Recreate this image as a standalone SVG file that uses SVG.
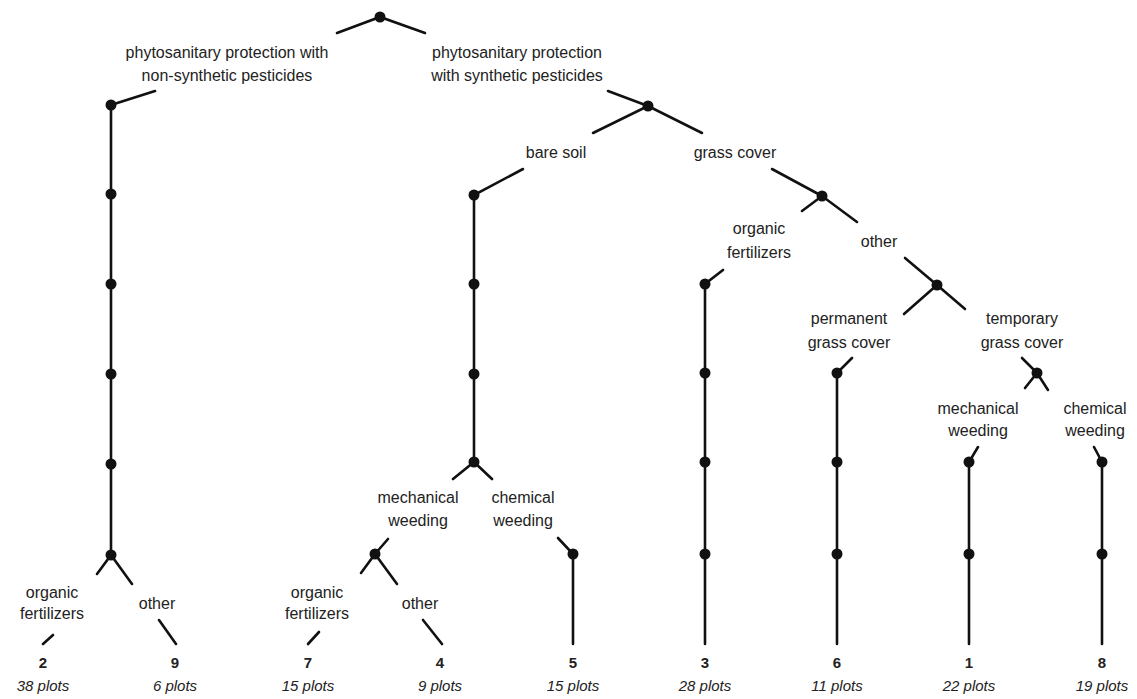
<svg xmlns="http://www.w3.org/2000/svg" width="1137" height="699" viewBox="0 0 1137 699">
<style>
.e{stroke:#111;stroke-width:2.6;fill:none;stroke-linecap:round}
.d{fill:#111}
text{font-family:"Liberation Sans",Arial,sans-serif;font-size:16px;fill:#222;text-anchor:middle}
.n{font-weight:bold;font-size:15px}
.p{font-style:italic;font-size:15px}
</style>
<rect width="1137" height="699" fill="#fff"/>
<g id="connectors">
<path class="e" d="M337,33 L380,17 L425,33"/>
<path class="e" d="M155,91 L111,105 L111,555 M97,574 L111,555 L132,584 M43,644 L53,635 M159,620 L176,644"/>
<path class="e" d="M608,91 L648,106 M593,133 L648,106 L702,133"/>
<path class="e" d="M523,169 L474,195 L474,462 M453,479 L474,462 L492,479"/>
<path class="e" d="M388,539 L375,554 M361,573 L375,554 L397,584 M308,644 L319,632 M423,620 L442,644"/>
<path class="e" d="M558,538 L573,554 L573,644"/>
<path class="e" d="M772,169 L822,196 M802,211 L822,196 L857,222"/>
<path class="e" d="M723,270 L705,284 L705,644"/>
<path class="e" d="M905,258 L937,285 M904,314 L937,285 L965,309"/>
<path class="e" d="M852,358 L837,373 L837,644"/>
<path class="e" d="M1022,358 L1037,373 M1025,388 L1037,373 L1048,390"/>
<path class="e" d="M978,447 L969,462 L969,644"/>
<path class="e" d="M1094,447 L1102,462 L1102,644"/>
</g>
<g id="root"><circle class="d" cx="380" cy="17" r="5.5"/></g>
<g id="nonsynthetic">
<text x="227" y="58">phytosanitary protection with</text>
<text x="227" y="81">non-synthetic pesticides</text>
<circle class="d" cx="111" cy="105" r="5.5"/>
<circle class="d" cx="111" cy="194" r="5.5"/>
<circle class="d" cx="111" cy="284" r="5.5"/>
<circle class="d" cx="111" cy="374" r="5.5"/>
<circle class="d" cx="111" cy="464" r="5.5"/>
<circle class="d" cx="111" cy="555" r="5.5"/>
</g>
<g id="ns-organic"><text x="52" y="598">organic</text><text x="52" y="619">fertilizers</text></g>
<g id="ns-other"><text x="157" y="609">other</text></g>
<g id="leaf2"><text class="n" x="43" y="668">2</text><text class="p" x="43" y="691">38 plots</text></g>
<g id="leaf9"><text class="n" x="175" y="668">9</text><text class="p" x="175" y="691">6 plots</text></g>
<g id="synthetic">
<text x="517" y="58">phytosanitary protection</text>
<text x="517" y="81">with synthetic pesticides</text>
<circle class="d" cx="648" cy="106" r="5.5"/>
</g>
<g id="baresoil">
<text x="556" y="158">bare soil</text>
<circle class="d" cx="474" cy="195" r="5.5"/>
<circle class="d" cx="474" cy="284" r="5.5"/>
<circle class="d" cx="474" cy="374" r="5.5"/>
<circle class="d" cx="474" cy="462" r="5.5"/>
</g>
<g id="bs-mechanical"><text x="418" y="503">mechanical</text><text x="418" y="526">weeding</text><circle class="d" cx="375" cy="554" r="5.5"/></g>
<g id="bs-chemical"><text x="523" y="503">chemical</text><text x="523" y="526">weeding</text><circle class="d" cx="573" cy="554" r="5.5"/></g>
<g id="bm-organic"><text x="317" y="598">organic</text><text x="317" y="619">fertilizers</text></g>
<g id="bm-other"><text x="420" y="609">other</text></g>
<g id="leaf7"><text class="n" x="308" y="668">7</text><text class="p" x="308" y="691">15 plots</text></g>
<g id="leaf4"><text class="n" x="440" y="668">4</text><text class="p" x="440" y="691">9 plots</text></g>
<g id="leaf5"><text class="n" x="573" y="668">5</text><text class="p" x="573" y="691">15 plots</text></g>
<g id="grasscover"><text x="735" y="158">grass cover</text><circle class="d" cx="822" cy="196" r="5.5"/></g>
<g id="gc-organic">
<text x="759" y="234">organic</text><text x="759" y="258">fertilizers</text>
<circle class="d" cx="705" cy="284" r="5.5"/>
<circle class="d" cx="705" cy="373" r="5.5"/>
<circle class="d" cx="705" cy="462" r="5.5"/>
<circle class="d" cx="705" cy="554" r="5.5"/>
</g>
<g id="leaf3"><text class="n" x="705" y="668">3</text><text class="p" x="705" y="691">28 plots</text></g>
<g id="gc-other"><text x="879" y="247">other</text><circle class="d" cx="937" cy="285" r="5.5"/></g>
<g id="permanent">
<text x="849" y="324">permanent</text><text x="849" y="348">grass cover</text>
<circle class="d" cx="837" cy="373" r="5.5"/>
<circle class="d" cx="837" cy="462" r="5.5"/>
<circle class="d" cx="837" cy="554" r="5.5"/>
</g>
<g id="leaf6"><text class="n" x="837" y="668">6</text><text class="p" x="837" y="691">11 plots</text></g>
<g id="temporary"><text x="1022" y="324">temporary</text><text x="1022" y="348">grass cover</text><circle class="d" cx="1037" cy="373" r="5.5"/></g>
<g id="t-mechanical">
<text x="978" y="414">mechanical</text><text x="978" y="436">weeding</text>
<circle class="d" cx="969" cy="462" r="5.5"/>
<circle class="d" cx="969" cy="554" r="5.5"/>
</g>
<g id="leaf1"><text class="n" x="969" y="668">1</text><text class="p" x="969" y="691">22 plots</text></g>
<g id="t-chemical">
<text x="1095" y="414">chemical</text><text x="1095" y="436">weeding</text>
<circle class="d" cx="1102" cy="462" r="5.5"/>
<circle class="d" cx="1102" cy="554" r="5.5"/>
</g>
<g id="leaf8"><text class="n" x="1102" y="668">8</text><text class="p" x="1102" y="691">19 plots</text></g>
</svg>
